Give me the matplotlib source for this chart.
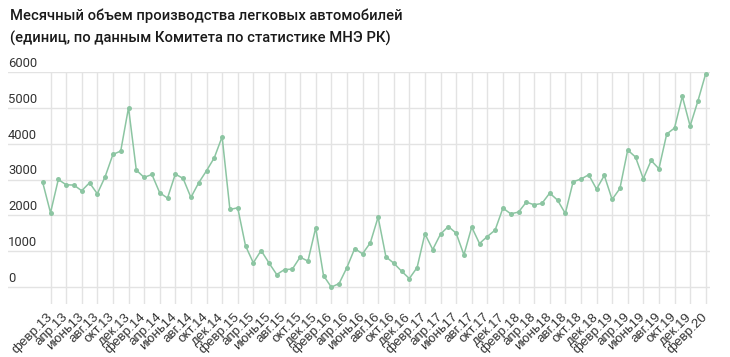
import matplotlib
matplotlib.use("Agg")
import matplotlib.pyplot as plt
import numpy as np

plt.rcParams['font.family'] = ['Roboto', 'DejaVu Sans']

months = ["янв.", "февр.", "март", "апр.", "май", "июнь", "июль", "авг.", "сент.", "окт.", "нояб.", "дек."]
categories = [f"{months[m]}{y % 100:02d}" for y in range(2013, 2021) for m in range(12)][:86]

values = [2920, 2074, 3003, 2855, 2846, 2688, 2911, 2604, 3078, 3701, 3795, 5004,
          3265, 3060, 3143, 2632, 2484, 3154, 3031, 2501, 2911, 3246, 3609, 4195,
          2166, 2213, 1153, 678, 1022, 678, 352, 491, 502, 837, 726, 1655,
          324, 0, 101, 547, 1077, 929, 1236, 1954, 846, 670, 447, 240,
          547, 1488, 1049, 1479, 1691, 1507, 901, 1675, 1217, 1412, 1591, 2205,
          2046, 2093, 2372, 2297, 2334, 2623, 2428, 2055, 2939, 3014, 3134, 2735,
          3115, 2445, 2752, 3824, 3628, 3023, 3533, 3302, 4270, 4438, 5320, 4493,
          5191, 5953]

yticks = [0, 1000, 2000, 3000, 4000, 5000, 6000]

fig = plt.figure(figsize=(7.3, 3.57), dpi=100)
ax = fig.add_axes([8/730, 1 - 304/357, (710 - 8)/730, (304 - 72)/357])

x = np.arange(len(values))
ax.plot(x, values, color="#8cc5a2", lw=1.1, marker="o", markersize=3.6,
        markeredgewidth=0, zorder=3)

ax.set_xlim(-4.45, 85.55)
ax.set_ylim(-470, 6000)

tick_idx = list(range(1, len(values), 2))
ax.set_xticks(tick_idx)
ax.set_xticklabels([categories[i] for i in tick_idx], rotation=45,
                   ha="right", va="center", rotation_mode="anchor",
                   fontsize=9.6, color="#333333",
                   family=["Liberation Sans", "DejaVu Sans"])
ax.tick_params(axis="x", length=0, pad=8)
ax.set_yticks(yticks)
ax.set_yticklabels([])
ax.tick_params(axis="y", length=0)

for v in yticks:
    ax.text(0.0, v + 60, str(v), transform=ax.get_yaxis_transform(),
            ha="left", va="bottom", fontsize=9.4, color="#333333")

ax.grid(True, color="#e3e3e3", lw=1)
ax.set_axisbelow(True)
for s in ax.spines.values():
    s.set_visible(False)

fig.text(10/730, 1 - 16/357, "Месячный объем производства легковых автомобилей",
         ha="left", va="center", fontsize=10.6, color="#1a1a1a", fontweight="medium")
fig.text(10/730, 1 - 38/357, "(единиц, по данным Комитета по статистике МНЭ РК)",
         ha="left", va="center", fontsize=10.6, color="#1a1a1a", fontweight="medium")

fig.savefig("out.png", dpi=100)
